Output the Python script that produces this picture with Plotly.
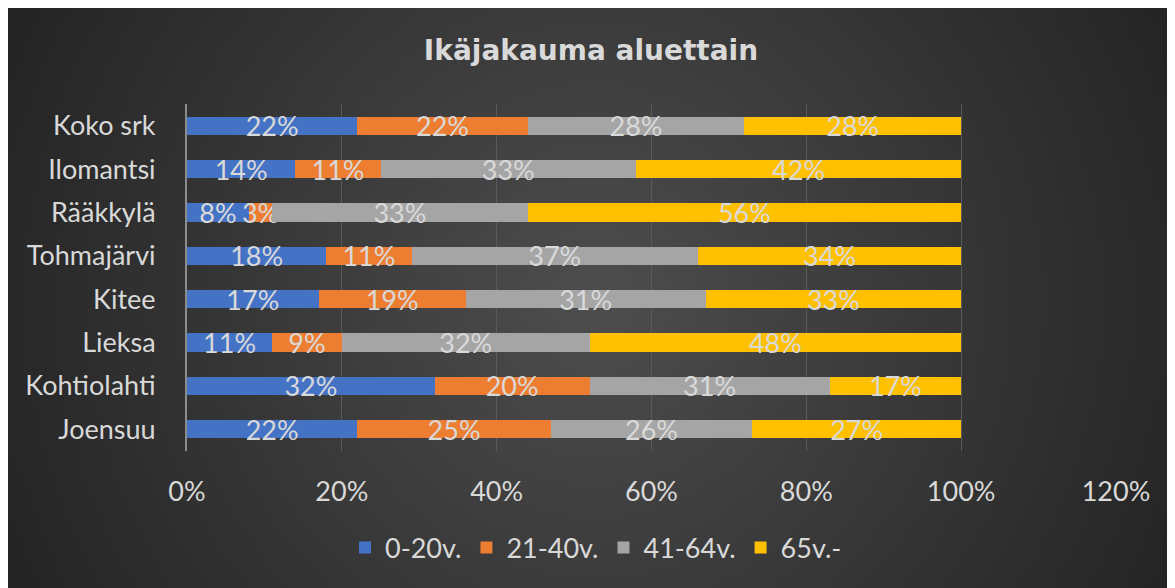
import base64, struct, zlib
import plotly.graph_objects as go

categories = ["Koko srk", "Ilomantsi", "Rääkkylä", "Tohmajärvi", "Kitee", "Lieksa", "Kohtiolahti", "Joensuu"]
series_names = ["0-20v.", "21-40v.", "41-64v.", "65v.-"]
v_0_20 = [0.22, 0.14, 0.08, 0.18, 0.17, 0.11, 0.32, 0.22]
v_21_40 = [0.22, 0.11, 0.03, 0.11, 0.19, 0.09, 0.20, 0.25]
v_41_64 = [0.28, 0.33, 0.33, 0.37, 0.31, 0.32, 0.31, 0.26]
v_65 = [0.28, 0.42, 0.56, 0.34, 0.33, 0.48, 0.17, 0.27]
tick_vals = [0, 0.2, 0.4, 0.6, 0.8, 1.0, 1.2]
tick_text = ["0%", "20%", "40%", "60%", "80%", "100%", "120%"]
colors = ["#4472C4", "#ED7D31", "#A5A5A5", "#FFC000"]

# page has an 8px body margin; figure fills the rest of the window
OX, OY = 7, 8
W, H = 1175 - OX, 588 - OY
L = 186 - OX
R = W - (1115 - OX)
T = 104 - OY
B = H - (451 - OY)
pw, ph = W - L - R, H - T - B


def gradient_png(w, h):
    c_in = (78, 78, 78)
    c_out = (36, 36, 36)
    cx, cy = w * 0.5, h * 0.5
    maxd = (cx ** 2 + cy ** 2) ** 0.5
    raw = bytearray()
    for j in range(h):
        raw.append(0)
        for i in range(w):
            d = ((i - cx) ** 2 + (j - cy) ** 2) ** 0.5 / maxd
            d = min(1.0, d)
            for k in range(3):
                raw.append(int(c_in[k] + (c_out[k] - c_in[k]) * d))

    def chunk(t, data):
        c = struct.pack(">I", len(data)) + t + data
        return c + struct.pack(">I", zlib.crc32(t + data) & 0xffffffff)

    png = b"\x89PNG\r\n\x1a\n"
    png += chunk(b"IHDR", struct.pack(">IIBBBBB", w, h, 8, 2, 0, 0, 0))
    png += chunk(b"IDAT", zlib.compress(bytes(raw), 9))
    png += chunk(b"IEND", b"")
    return "data:image/png;base64," + base64.b64encode(png).decode()


fig = go.Figure()
for name, vals, col in zip(series_names, [v_0_20, v_21_40, v_41_64, v_65], colors):
    fig.add_trace(go.Bar(
        y=categories, x=vals, name=name, orientation="h",
        marker=dict(color=col, line=dict(width=0)),
        texttemplate="%{x:.0%}", textposition="inside", insidetextanchor="middle",
        textfont=dict(size=27, color="#d9d9d9", family="Lato"),
        constraintext="none", cliponaxis=False, hoverinfo="skip",
    ))

fig.add_layout_image(dict(
    source=gradient_png(234, 116),
    xref="paper", yref="paper",
    x=-L / pw, y=(H - B) / ph,
    sizex=W / pw, sizey=H / ph,
    sizing="stretch", layer="below", xanchor="left", yanchor="top",
))

fig.update_layout(
    width=W, height=H,
    margin=dict(l=L, r=R, t=T, b=B),
    barmode="stack", bargap=0.58,
    paper_bgcolor="#303030", plot_bgcolor="rgba(0,0,0,0)",
    font=dict(family="Lato", color="#d9d9d9", size=27),
    uniformtext=dict(minsize=27, mode="show"),
    title=dict(text="<b>Ikäjakauma aluettain</b>", x=(590 - OX) / W, xref="container", xanchor="center",
               y=1 - (50 - OY) / H, yref="container", yanchor="middle",
               font=dict(size=28, color="#d9d9d9", family="DejaVu Sans")),
    xaxis=dict(range=[0, 1.2], tickvals=tick_vals, ticktext=tick_text, showgrid=True,
               gridcolor="#5a5a5a", gridwidth=1, zeroline=False, showline=False,
               ticklabelstandoff=22, tickfont=dict(size=27, color="#d9d9d9")),
    yaxis=dict(autorange="reversed", showgrid=False, showline=True, linecolor="#8c8c8c", linewidth=2,
               ticks="", ticklabelstandoff=24, tickfont=dict(size=27, color="#d9d9d9")),
    legend=dict(orientation="h", xref="container", yref="container", x=(595 - OX) / W, xanchor="center",
                y=1 - (548 - OY) / H, yanchor="middle", font=dict(size=27, color="#d9d9d9"),
                traceorder="normal", bgcolor="rgba(0,0,0,0)"),
    showlegend=True,
)

fig.write_html("out.html")
